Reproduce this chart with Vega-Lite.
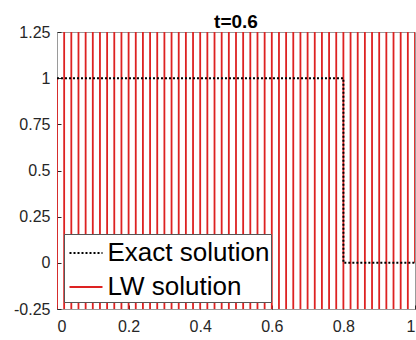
{
  "$schema": "https://vega.github.io/schema/vega-lite/v6.json",
  "width": 358,
  "height": 277,
  "autosize": {"type": "none"},
  "padding": {"left": 57, "top": 32, "right": 1, "bottom": 31},
  "title": {"text": "t=0.6", "fontSize": 19, "fontWeight": "bold", "font": "Liberation Sans", "color": "#000000", "offset": -8, "anchor": "middle"},
  "datasets": {
    "exact": [
      {"series": "Exact solution", "i": 0, "x": 0, "y": 1},
      {"series": "Exact solution", "i": 1, "x": 0.8, "y": 1},
      {"series": "Exact solution", "i": 2, "x": 0.8, "y": 0},
      {"series": "Exact solution", "i": 3, "x": 1, "y": 0}
    ],
    "lw": [
      {"series": "LW solution", "x": 0, "y": 1},
      {"series": "LW solution", "x": 0.01, "y": -1000},
      {"series": "LW solution", "x": 0.03, "y": 1000},
      {"series": "LW solution", "x": 0.05, "y": -1000},
      {"series": "LW solution", "x": 0.07, "y": 1000},
      {"series": "LW solution", "x": 0.09, "y": -1000},
      {"series": "LW solution", "x": 0.11, "y": 1000},
      {"series": "LW solution", "x": 0.13, "y": -1000},
      {"series": "LW solution", "x": 0.15, "y": 1000},
      {"series": "LW solution", "x": 0.17, "y": -1000},
      {"series": "LW solution", "x": 0.19, "y": 1000},
      {"series": "LW solution", "x": 0.21, "y": -1000},
      {"series": "LW solution", "x": 0.23, "y": 1000},
      {"series": "LW solution", "x": 0.25, "y": -1000},
      {"series": "LW solution", "x": 0.27, "y": 1000},
      {"series": "LW solution", "x": 0.29, "y": -1000},
      {"series": "LW solution", "x": 0.31, "y": 1000},
      {"series": "LW solution", "x": 0.33, "y": -1000},
      {"series": "LW solution", "x": 0.35, "y": 1000},
      {"series": "LW solution", "x": 0.37, "y": -1000},
      {"series": "LW solution", "x": 0.39, "y": 1000},
      {"series": "LW solution", "x": 0.41, "y": -1000},
      {"series": "LW solution", "x": 0.43, "y": 1000},
      {"series": "LW solution", "x": 0.45, "y": -1000},
      {"series": "LW solution", "x": 0.47, "y": 1000},
      {"series": "LW solution", "x": 0.49, "y": -1000},
      {"series": "LW solution", "x": 0.51, "y": 1000},
      {"series": "LW solution", "x": 0.53, "y": -1000},
      {"series": "LW solution", "x": 0.55, "y": 1000},
      {"series": "LW solution", "x": 0.57, "y": -1000},
      {"series": "LW solution", "x": 0.59, "y": 1000},
      {"series": "LW solution", "x": 0.61, "y": -1000},
      {"series": "LW solution", "x": 0.63, "y": 1000},
      {"series": "LW solution", "x": 0.65, "y": -1000},
      {"series": "LW solution", "x": 0.67, "y": 1000},
      {"series": "LW solution", "x": 0.69, "y": -1000},
      {"series": "LW solution", "x": 0.71, "y": 1000},
      {"series": "LW solution", "x": 0.73, "y": -1000},
      {"series": "LW solution", "x": 0.75, "y": 1000},
      {"series": "LW solution", "x": 0.77, "y": -1000},
      {"series": "LW solution", "x": 0.79, "y": 1000},
      {"series": "LW solution", "x": 0.81, "y": -1000},
      {"series": "LW solution", "x": 0.83, "y": 1000},
      {"series": "LW solution", "x": 0.85, "y": -1000},
      {"series": "LW solution", "x": 0.87, "y": 1000},
      {"series": "LW solution", "x": 0.89, "y": -1000},
      {"series": "LW solution", "x": 0.91, "y": 1000},
      {"series": "LW solution", "x": 0.93, "y": -1000},
      {"series": "LW solution", "x": 0.95, "y": 1000},
      {"series": "LW solution", "x": 0.97, "y": -1000},
      {"series": "LW solution", "x": 0.99, "y": 1000},
      {"series": "LW solution", "x": 1, "y": 0}
    ]
  },
  "encoding": {
    "x": {"field": "x", "type": "quantitative", "scale": {"domain": [0, 1], "nice": false, "zero": false},
      "axis": {"title": null, "values": [0, 0.2, 0.4, 0.6, 0.8, 1], "labelExpr": "'' + datum.value", "labelPadding": 13}},
    "y": {"field": "y", "type": "quantitative", "scale": {"domain": [-0.25, 1.25], "nice": false, "zero": false},
      "axis": {"title": null, "values": [-0.25, 0, 0.25, 0.5, 0.75, 1, 1.25], "labelExpr": "'' + datum.value", "labelPadding": 11}},
    "color": {"field": "series", "type": "nominal",
      "scale": {"domain": ["Exact solution", "LW solution"], "range": ["#000000", "#dd2222"]},
      "legend": {"title": null}},
    "strokeDash": {"field": "series", "type": "nominal",
      "scale": {"domain": ["Exact solution", "LW solution"], "range": [[2, 2], [1, 0]]},
      "legend": {"title": null}}
  },
  "layer": [
    {"data": {"name": "lw"}, "mark": {"type": "line", "clip": true, "strokeWidth": 1.8}},
    {"data": {"name": "exact"}, "mark": {"type": "line", "clip": true, "strokeWidth": 2},
      "encoding": {"order": {"field": "i", "type": "quantitative"}}}
  ],
  "config": {
    "view": {"stroke": "#9a9a9a", "strokeWidth": 1},
    "axis": {"grid": false, "domain": false, "labelFont": "Liberation Sans", "labelFontSize": 16, "labelColor": "#262626", "tickColor": "#262626", "tickSize": -4},
    "legend": {"orient": "bottom-left", "offset": 7, "fillColor": "#ffffff", "strokeColor": "#555555", "padding": 1.5,
      "labelFont": "Liberation Sans", "labelFontSize": 26, "labelColor": "#000000", "labelOffset": 4, "labelLimit": 400,
      "symbolType": "stroke", "symbolSize": 1089, "symbolOffset": 3, "symbolStrokeWidth": 2, "rowPadding": 3}
  }
}
